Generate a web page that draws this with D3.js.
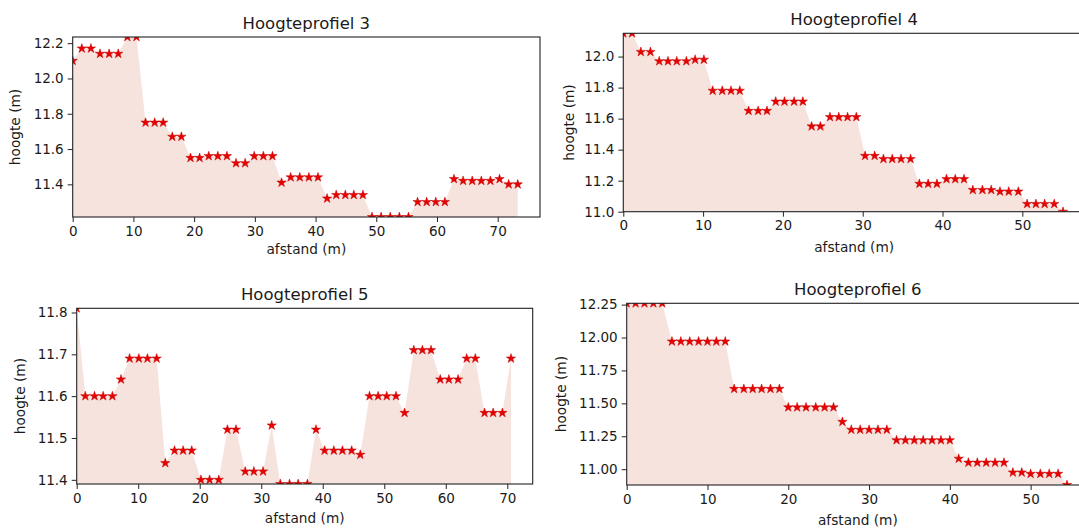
<!DOCTYPE html>
<html>
<head>
<meta charset="utf-8">
<script src="https://cdn.jsdelivr.net/npm/d3@7"></script>
<style>
  body { margin: 0; background: #fff; }
  text { font-family: "DejaVu Sans", sans-serif; fill: #1a1a1a; }
</style>
</head>
<body>
<script>
var svgWidth = 1079;
var svgHeight = 532;

// hoogteprofielen: afstand (m) en hoogte (m)
var afstand3 = [0, 1.5, 3.0, 4.5, 6.0, 7.5, 9.0, 10.5, 12.0, 13.5, 14.9, 16.4, 17.9, 19.4, 20.9, 22.4, 23.9, 25.4, 26.9, 28.4,
  29.9, 31.4, 32.9, 34.4, 35.9, 37.4, 38.9, 40.4, 41.9, 43.4, 44.9, 46.3, 47.8, 49.3, 50.8, 52.3, 53.8, 55.3, 56.8, 58.3,
  59.8, 61.3, 62.8, 64.3, 65.8, 67.3, 68.8, 70.3, 71.8, 73.3];
var hoogte3 = [12.10, 12.17, 12.17, 12.14, 12.14, 12.14, 12.235, 12.235, 11.75, 11.75, 11.75, 11.67, 11.67, 11.55, 11.55,
  11.56, 11.56, 11.56, 11.52, 11.52, 11.56, 11.56, 11.56, 11.41, 11.44, 11.44, 11.44, 11.44, 11.32, 11.34, 11.34, 11.34,
  11.34, 11.215, 11.215, 11.215, 11.215, 11.215, 11.30, 11.30, 11.30, 11.30, 11.43, 11.42, 11.42, 11.42, 11.42, 11.43,
  11.40, 11.40];

var afstand4 = [0, 1.1, 2.2, 3.4, 4.5, 5.6, 6.7, 7.9, 9.0, 10.1, 11.2, 12.4, 13.5, 14.6, 15.7, 16.9, 18.0, 19.1, 20.2, 21.4,
  22.5, 23.6, 24.7, 25.9, 27.0, 28.1, 29.2, 30.3, 31.5, 32.6, 33.7, 34.8, 36.0, 37.1, 38.2, 39.3, 40.5, 41.6, 42.7, 43.8,
  45.0, 46.1, 47.2, 48.3, 49.5, 50.6, 51.7, 52.8, 54.0, 55.1];
var hoogte4 = [12.15, 12.15, 12.03, 12.03, 11.97, 11.97, 11.97, 11.97, 11.98, 11.98, 11.78, 11.78, 11.78, 11.78, 11.65,
  11.65, 11.65, 11.71, 11.71, 11.71, 11.71, 11.55, 11.55, 11.61, 11.61, 11.61, 11.61, 11.36, 11.36, 11.34, 11.34, 11.34,
  11.34, 11.18, 11.18, 11.18, 11.21, 11.21, 11.21, 11.14, 11.14, 11.14, 11.13, 11.13, 11.13, 11.05, 11.05, 11.05, 11.05,
  11.00];

var afstand5 = [0, 1.4, 2.9, 4.3, 5.8, 7.2, 8.6, 10.1, 11.5, 13.0, 14.4, 15.9, 17.3, 18.7, 20.2, 21.6, 23.1, 24.5, 25.9, 27.4,
  28.8, 30.3, 31.7, 33.1, 34.6, 36.0, 37.5, 38.9, 40.3, 41.8, 43.2, 44.7, 46.1, 47.6, 49.0, 50.4, 51.9, 53.3, 54.8, 56.2,
  57.6, 59.1, 60.5, 62.0, 63.4, 64.8, 66.3, 67.7, 69.2, 70.6];
var hoogte5 = [11.81, 11.60, 11.60, 11.60, 11.60, 11.64, 11.69, 11.69, 11.69, 11.69, 11.44, 11.47, 11.47, 11.47, 11.40,
  11.40, 11.40, 11.52, 11.52, 11.42, 11.42, 11.42, 11.53, 11.39, 11.39, 11.39, 11.39, 11.52, 11.47, 11.47, 11.47, 11.47,
  11.46, 11.60, 11.60, 11.60, 11.60, 11.56, 11.71, 11.71, 11.71, 11.64, 11.64, 11.64, 11.69, 11.69, 11.56, 11.56, 11.56,
  11.69];

var afstand6 = [0, 1.1, 2.2, 3.3, 4.4, 5.6, 6.7, 7.8, 8.9, 10.0, 11.1, 12.2, 13.3, 14.5, 15.6, 16.7, 17.8, 18.9, 20.0, 21.1,
  22.2, 23.4, 24.5, 25.6, 26.7, 27.8, 28.9, 30.0, 31.1, 32.2, 33.4, 34.5, 35.6, 36.7, 37.8, 38.9, 40.0, 41.1, 42.3, 43.4,
  44.5, 45.6, 46.7, 47.8, 48.9, 50.0, 51.2, 52.3, 53.4, 54.5];
var hoogte6 = [12.26, 12.26, 12.26, 12.26, 12.26, 11.97, 11.97, 11.97, 11.97, 11.97, 11.97, 11.97, 11.61, 11.61, 11.61,
  11.61, 11.61, 11.61, 11.47, 11.47, 11.47, 11.47, 11.47, 11.47, 11.36, 11.30, 11.30, 11.30, 11.30, 11.30, 11.22, 11.22,
  11.22, 11.22, 11.22, 11.22, 11.22, 11.08, 11.05, 11.05, 11.05, 11.05, 11.05, 10.975, 10.975, 10.965, 10.965, 10.965,
  10.965, 10.88];

// tick labels
var xTicks3 = [0, 10, 20, 30, 40, 50, 60, 70];
var yTicks3 = [11.4, 11.6, 11.8, 12.0, 12.2];
var xTicks4 = [0, 10, 20, 30, 40, 50];
var yTicks4 = [11.0, 11.2, 11.4, 11.6, 11.8, 12.0];
var xTicks5 = [0, 10, 20, 30, 40, 50, 60, 70];
var yTicks5 = [11.4, 11.5, 11.6, 11.7, 11.8];
var xTicks6 = [0, 10, 20, 30, 40, 50];
var yTicks6 = [11.00, 11.25, 11.50, 11.75, 12.00, 12.25];

var titles = ["Hoogteprofiel 3", "Hoogteprofiel 4", "Hoogteprofiel 5", "Hoogteprofiel 6"];

// panel boxes (pixels)
var panels = [
  {x: afstand3, y: hoogte3, xt: xTicks3, yt: yTicks3, fmt: ".1f", left: 72.7, top: 37, right: 540, bottom: 217, ylabX: 15, xlabY: 254},
  {x: afstand4, y: hoogte4, xt: xTicks4, yt: yTicks4, fmt: ".1f", left: 623.3, top: 33.3, right: 1085, bottom: 211.7, ylabX: 569, xlabY: 252},
  {x: afstand5, y: hoogte5, xt: xTicks5, yt: yTicks5, fmt: ".1f", left: 76.7, top: 308.3, right: 532.7, bottom: 484, ylabX: 20, xlabY: 523},
  {x: afstand6, y: hoogte6, xt: xTicks6, yt: yTicks6, fmt: ".2f", left: 626.7, top: 303.3, right: 1089, bottom: 485, ylabX: 561, xlabY: 525}
];

var svg = d3.select("body")
  .append("svg")
  .attr("width", svgWidth)
  .attr("height", svgHeight);

var star = d3.symbol().type(d3.symbolStar).size(27);

panels.forEach(function(p, i) {
  var pts = p.x.map(function(d, j) { return {afstand: d, hoogte: p.y[j]}; });

  var xScale = d3.scaleLinear()
    .domain([0, d3.max(p.x) * 1.05])
    .range([p.left, p.right]);
  var yScale = d3.scaleLinear()
    .domain(d3.extent(p.y))
    .range([p.bottom, p.top]);

  var clipId = "clip" + i;
  svg.append("clipPath").attr("id", clipId)
    .append("rect")
    .attr("x", p.left).attr("y", p.top)
    .attr("width", p.right - p.left).attr("height", p.bottom - p.top);

  var plot = svg.append("g").attr("clip-path", "url(#" + clipId + ")");

  var area = d3.area()
    .x(d => xScale(d.afstand))
    .y0(yScale.range()[0])
    .y1(d => yScale(d.hoogte));

  plot.append("path")
    .datum(pts)
    .attr("d", area)
    .attr("fill", "#f6e3dd");

  plot.selectAll(".star")
    .data(pts)
    .enter()
    .append("path")
    .attr("class", "star")
    .attr("d", star)
    .attr("transform", d => `translate(${xScale(d.afstand)}, ${yScale(d.hoogte)})`)
    .attr("fill", "#e80000")
    .attr("stroke", "#c40000")
    .attr("stroke-width", 0.5);

  var xAxis = d3.axisBottom(xScale).tickValues(p.xt).tickFormat(d3.format("d"))
    .tickSize(5).tickPadding(4).tickSizeOuter(0);
  var yAxis = d3.axisLeft(yScale).tickValues(p.yt).tickFormat(d3.format(p.fmt))
    .tickSize(5).tickPadding(4).tickSizeOuter(0);

  var gx = svg.append("g")
    .attr("transform", `translate(0, ${p.bottom})`)
    .call(xAxis);
  var gy = svg.append("g")
    .attr("transform", `translate(${p.left}, 0)`)
    .call(yAxis);

  [gx, gy].forEach(function(g) {
    g.select(".domain").remove();
    g.selectAll("line").attr("stroke", "#222");
    g.selectAll("text").style("font-size", "13.5px").attr("fill", "#1a1a1a");
  });

  svg.append("rect")
    .attr("x", p.left).attr("y", p.top)
    .attr("width", p.right - p.left).attr("height", p.bottom - p.top)
    .attr("fill", "none")
    .attr("stroke", "#222")
    .attr("stroke-width", 1.1);

  svg.append("text")
    .attr("x", (p.left + p.right) / 2)
    .attr("y", p.top - 8)
    .attr("text-anchor", "middle")
    .style("font-size", "16.5px")
    .text(titles[i]);

  svg.append("text")
    .attr("x", (p.left + p.right) / 2)
    .attr("y", p.xlabY)
    .attr("text-anchor", "middle")
    .style("font-size", "13.7px")
    .text("afstand (m)");

  svg.append("text")
    .attr("transform", `translate(${p.ylabX}, ${(p.top + p.bottom) / 2}) rotate(-90)`)
    .attr("dy", "0.35em")
    .attr("text-anchor", "middle")
    .style("font-size", "13.7px")
    .text("hoogte (m)");
});
</script>
</body>
</html>
